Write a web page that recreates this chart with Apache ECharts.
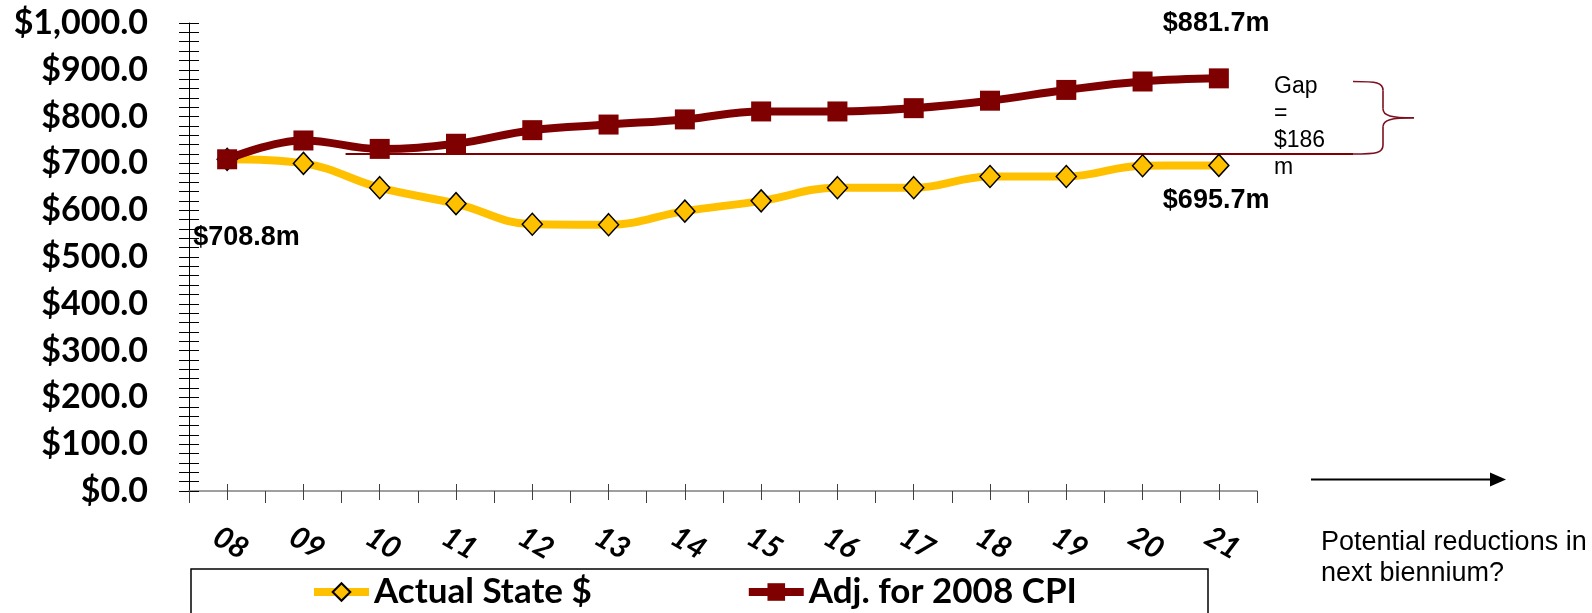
<!DOCTYPE html>
<html><head><meta charset="utf-8">
<script src="https://cdn.jsdelivr.net/npm/echarts@6/dist/echarts.min.js"></script>
<style>html,body{margin:0;padding:0;background:#fff}#c{width:1592px;height:613px}</style>
</head><body><div id="c"></div>
<script>
// ---- data ----
const categories = ['08','09','10','11','12','13','14','15','16','17','18','19','20','21'];
const actualState = [708.8, 700, 648, 614, 570, 569, 598, 620, 648, 648, 672, 672, 695, 695.7];
const adjCPI = [708.8, 749, 731, 742, 771, 783, 794, 811, 811, 818, 834, 857, 875, 881.7];
const seriesNames = ['Actual State $', 'Adj. for 2008 CPI'];
const yMin = 0, yMax = 1000, yInterval = 100;
const gapLineValue = 720;
const braceTopValue = 875;
const noteText = ['Potential reductions in', 'next biennium?'];

const YELLOW = '#FFC000', MAROON = '#7F0000', BRACE = '#7B1020';
const chart = echarts.init(document.getElementById('c'), null, {renderer: 'canvas'});
const fmtY = v => '$' + v.toLocaleString('en-US', {minimumFractionDigits: 1, maximumFractionDigits: 1});

chart.setOption({
  animation: false,
  backgroundColor: '#fff',
  grid: {left: 189, right: 335, top: 23, bottom: 122},
  legend: {
    data: seriesNames, left: 310, top: 571, padding: 0,
    itemWidth: 55, itemHeight: 22, itemGap: 153,
    lineStyle: {width: 8},
    textStyle: {fontFamily: 'Lato', fontWeight: 'bold', fontSize: 35, color: '#000', lineHeight: 42}
  },
  xAxis: [{
    type: 'category', data: categories, boundaryGap: true,
    axisLine: {lineStyle: {color: '#808080', width: 1.5}},
    axisTick: {show: true, length: 12, lineStyle: {color: '#404040'}},
    axisLabel: {rotate: -30, align: 'center', verticalAlign: 'middle', margin: 50, padding: [0, 0, 0, 8],
      fontFamily: 'Lato', fontStyle: 'italic', fontWeight: 'bold', fontSize: 30, color: '#000'},
    splitLine: {show: false}
  }, {
    type: 'category', data: categories, boundaryGap: true, position: 'bottom', offset: -7,
    axisLine: {show: false}, axisLabel: {show: false},
    axisTick: {show: true, alignWithLabel: true, length: 16, lineStyle: {color: '#404040'}},
    splitLine: {show: false}
  }],
  yAxis: [{
    type: 'value', min: yMin, max: yMax, interval: yInterval,
    axisLine: {show: true, lineStyle: {color: '#000', width: 1}},
    axisTick: {show: false},
    axisLabel: {formatter: fmtY, margin: 41, fontFamily: 'Lato', fontWeight: 'bold', fontSize: 34, color: '#000'},
    splitLine: {show: false}
  }, {
    type: 'value', min: yMin, max: yMax, interval: yInterval, position: 'left', offset: -10,
    axisLine: {show: false}, axisLabel: {show: false},
    axisTick: {show: true, length: 20, lineStyle: {color: '#000'}},
    minorTick: {show: true, splitNumber: 5, length: 20, lineStyle: {color: '#000'}},
    splitLine: {show: false}, minorSplitLine: {show: false}
  }],
  series: [{
    name: seriesNames[0], type: 'line', data: actualState, smooth: 0.4,
    symbol: 'diamond', symbolSize: [20, 22], showAllSymbol: true,
    lineStyle: {color: YELLOW, width: 8},
    itemStyle: {color: YELLOW, borderColor: '#000', borderWidth: 1.5}
  }, {
    name: seriesNames[1], type: 'line', data: adjCPI, smooth: 0.4,
    symbol: 'rect', symbolSize: 20, showAllSymbol: true,
    lineStyle: {color: MAROON, width: 8},
    itemStyle: {color: MAROON}
  }]
});

// ---- annotations ----
const P = (i, v) => chart.convertToPixel({seriesIndex: 0}, [i, v]);
const last = categories.length - 1;
const p0 = P(0, actualState[0]);
const pA = P(last, actualState[last]);
const pB = P(last, adjCPI[last]);
const lineY = chart.convertToPixel({yAxisIndex: 0}, gapLineValue);
const topY = chart.convertToPixel({yAxisIndex: 0}, braceTopValue);
const lineX0 = (P(1, 0)[0] + P(2, 0)[0]) / 2 + 4;
const bx0 = 1353, bxV = 1383, bxT = 1414;
const midY = (topY + lineY) / 2;
const gap = Math.round(adjCPI[last] - actualState[last]);
const valLabel = v => '$' + v.toFixed(1) + 'm';
const boldLbl = {fontFamily: 'Liberation Sans', fontWeight: 'bold', fontSize: 27, fill: '#000', textVerticalAlign: 'middle'};
const bStyle = {stroke: BRACE, lineWidth: 1.6, fill: null};
const bez = (x1, y1, c1x, c1y, c2x, c2y, x2, y2) => ({type: 'bezierCurve', z: 0,
  shape: {x1, y1, cpx1: c1x, cpy1: c1y, cpx2: c2x, cpy2: c2y, x2, y2}, style: bStyle});
const seg = (x1, y1, x2, y2) => ({type: 'line', z: 0, shape: {x1, y1, x2, y2}, style: bStyle});

chart.setOption({
  graphic: [
    {type: 'line', z: 0, shape: {x1: lineX0, y1: lineY, x2: bx0, y2: lineY}, style: {stroke: MAROON, lineWidth: 2}},
    bez(bx0, topY, bx0 + 24, topY, bxV, topY + 1, bxV, topY + 9),
    seg(bxV, topY + 9, bxV, midY - 9),
    bez(bxV, midY - 9, bxV, midY - 2, bxV + 8, midY, bxT, midY),
    bez(bxT, midY, bxV + 8, midY, bxV, midY + 2, bxV, midY + 9),
    seg(bxV, midY + 9, bxV, lineY - 9),
    bez(bxV, lineY - 9, bxV, lineY - 1, bx0 + 24, lineY, bx0, lineY),
    {type: 'text', style: Object.assign({text: valLabel(actualState[0]), x: p0[0] - 34, y: p0[1] + 78}, boldLbl)},
    {type: 'text', style: Object.assign({text: valLabel(adjCPI[last]), x: pB[0] - 56, y: pB[1] - 55}, boldLbl)},
    {type: 'text', style: Object.assign({text: valLabel(actualState[last]), x: pA[0] - 56, y: pA[1] + 35}, boldLbl)},
    {type: 'text', style: {text: 'Gap\n=\n$' + gap + '\nm', x: 1274, y: 73, fontFamily: 'Liberation Sans', fontSize: 23, lineHeight: 27, fill: '#000', textVerticalAlign: 'top'}},
    {type: 'line', shape: {x1: 1311, y1: 479.5, x2: 1493, y2: 479.5}, style: {stroke: '#000', lineWidth: 2}},
    {type: 'polygon', shape: {points: [[1490, 472.5], [1506, 479.5], [1490, 486.5]]}, style: {fill: '#000'}},
    {type: 'text', style: {text: noteText.join('\n'), x: 1321, y: 527, fontFamily: 'Liberation Sans', fontSize: 27, lineHeight: 31, fill: '#000', textVerticalAlign: 'top'}},
    {type: 'rect', shape: {x: 191, y: 569, width: 1017, height: 80}, style: {stroke: '#000', lineWidth: 1.5, fill: null}}
  ]
});
</script></body></html>
